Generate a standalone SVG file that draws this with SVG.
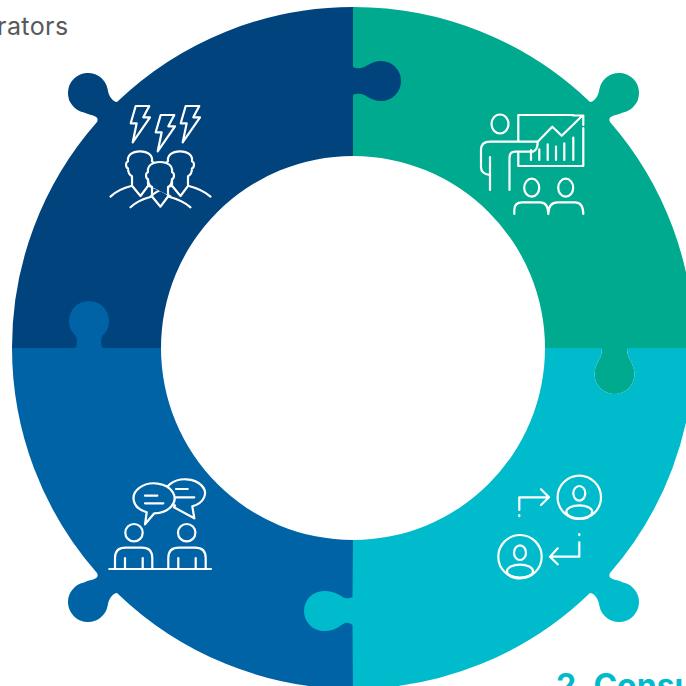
<svg xmlns="http://www.w3.org/2000/svg" width="686" height="686" viewBox="0 0 686 686">
<style>
.ic{fill:none;stroke:#fff;stroke-width:2.2;stroke-linecap:round;stroke-linejoin:round}
.lbl{font-family:"Inter","Liberation Sans",sans-serif}
</style>
<defs>
<path id="bolt" d="M135.7,106H149.3L143.3,117.3H150L132.7,142.3L136.7,123.3H130.7Z"/>
<g id="bperson"><path d="M152,187C150,186 148,183 148,179Q146,179 146,175Q146,173 148,172C147,166 152,162 160,162C168,162 173,166 172,172Q174,173 174,175Q174,179 172,179C172,183 170,186 168,187L168,195M152,187V195"/><path d="M130.5,207.3Q138,200 152,196.5L160.5,206.7L168,196.5Q182,200 190.5,207.3"/></g>
<g id="cperson"><circle cx="0" cy="0" r="21.7"/><ellipse cx="0" cy="-4" rx="6" ry="7.3"/><ellipse cx="0" cy="14.5" rx="13" ry="6.5"/></g>
</defs>
<rect width="686" height="686" fill="#fff"/>
<g id="node-green"><path fill="#00aa8e" d="M353,7A341,341 0 0 1 590,102Q593,102 596,98Q598.5,95 599.4,89A20,20 0 1 1 623,112.6Q620,114 616,115C611,116 608,118 610,122A341,341 0 0 1 694,348H627Q627,354 629,358C632,363 634.5,368 634.5,374A20,20 0 0 1 594.5,374C594.5,368 597,363 600,358Q602,354 602,348H545A192,192 0 0 0 353,156Z"/>
<g class="ic"><path d="M518.3,141V115H573M518.3,153V166H583.3V128"/><path d="M537.7,141.7L552.3,126.7L561.7,135.7L582.3,115.7M573,115.5H583.3V125"/><path d="M531,150V160M539.3,149.3V160M547.7,144.3V160M556,146.7V160M564.3,143.3V160M573.3,137.7V160"/><ellipse cx="500" cy="124" rx="8.5" ry="9.5"/><path d="M537.7,141.7H490Q481,141.7 481,150V167Q481,174 490,175M490,157V190M509.5,190V158Q509.5,151.7 515,151.7H533Q537.7,150 537.7,141.7"/><ellipse cx="531.7" cy="187.7" rx="7.5" ry="9"/><ellipse cx="565.7" cy="187.7" rx="7.5" ry="9"/><path d="M514.3,214V210Q514.3,202.3 522,202.3H540Q548.3,202.3 548.3,214Q548.3,202.3 557.7,202.3H575Q583.3,202.3 583.3,214"/></g></g>
<g id="node-navy"><path fill="#00437d" d="M353,7V67Q356,69 361,68C367,67 371,61 381,61A20,20 0 0 1 381,101C371,101 367,95 361,94Q356,93 353,95V156A192,192 0 0 0 161,348H12A341,341 0 0 1 97,122C99,118 96,116 91,115Q87,114 84,112.6A20,20 0 1 1 107.6,89Q108.5,95 111,98Q114,102 117,102A341,341 0 0 1 353,7Z"/>
<g class="ic"><use href="#bolt"/><use href="#bolt" x="25" y="9"/><use href="#bolt" x="50"/><use href="#bperson" x="-20" y="-10.7"/><use href="#bperson" x="20" y="-10.7"/><use href="#bperson" fill="#00437d"/></g></g>
<g id="node-blue"><path fill="#0063a6" d="M12,348H75Q77,346 77,342Q77,338 75,335C71,331 69,327 69,321A20,20 0 0 1 109,321C109,327 107,331 103,335Q101,338 101,342Q101,346 103,348H161A192,192 0 0 0 353,540V689A341,341 0 0 1 117,593Q114,593 111,597Q108.5,600 107.6,606A20,20 0 1 1 84,582.4Q87,581 91,580C96,579 99,577 97,573A341,341 0 0 1 12,348Z"/>
<g class="ic"><path fill="#0063a6" d="M175,505.4A20,14 0 1 1 192.3,506.3L194.3,518.3L174,507.3Z"/><path fill="#0063a6" d="M146.7,512.3A20.5,15 0 1 1 154.3,513.3L145,524.3Z"/><path d="M145,495.7H157.3M145,503.3H163.3M176,489H187.7M176,497.3H194.3"/><circle cx="134" cy="532.7" r="8.7"/><circle cx="186.7" cy="532.7" r="8.7"/><path d="M109.3,569H211M115,569V558Q115,547.7 125.7,547.7H141.7Q152.3,547.7 152.3,558V569M125,558V569M142.7,558V569M168.3,569V558Q168.3,547.7 179,547.7H195Q205.7,547.7 205.7,558V569M178.3,558V569M195.7,558V569"/></g></g>
<g id="node-cyan"><path fill="#00bbcb" d="M545,348H602Q602,354 600,358C597,363 594.5,368 594.5,374A20,20 0 0 0 634.5,374C634.5,368 632,363 629,358Q627,354 627,348H694A341,341 0 0 1 610,573C608,577 611,579 616,580Q620,581 623,582.4A20,20 0 1 1 599.4,606Q598.5,600 596,597Q593,593 590,593A341,341 0 0 1 353,689L352.5,625Q349,622 345,623C341,624 337,631 324,631A20,20 0 0 1 324,591C337,591 341,597 345,598Q349,599 352.5,597L353,540A192,192 0 0 0 545,348Z"/>
<g class="ic"><use href="#cperson" x="579.3" y="497.3"/><use href="#cperson" x="520" y="556.7"/><path d="M519.3,510V497.3H548M541,489.3L549,497.3L541,505M519.3,515V516.2M579.3,542.3V556.7H551M557.7,548.3L550,556.7L557.7,564.3M579.3,534V535.2"/></g></g>
<text class="lbl" x="68.5" y="35" text-anchor="end" font-size="25" letter-spacing="0.4" fill="#58595b">rators</text>
<text class="lbl" x="556" y="697" font-size="32" font-weight="700" fill="#00bbcb">2. Consu</text>
<g id="connectors"></g>
</svg>
